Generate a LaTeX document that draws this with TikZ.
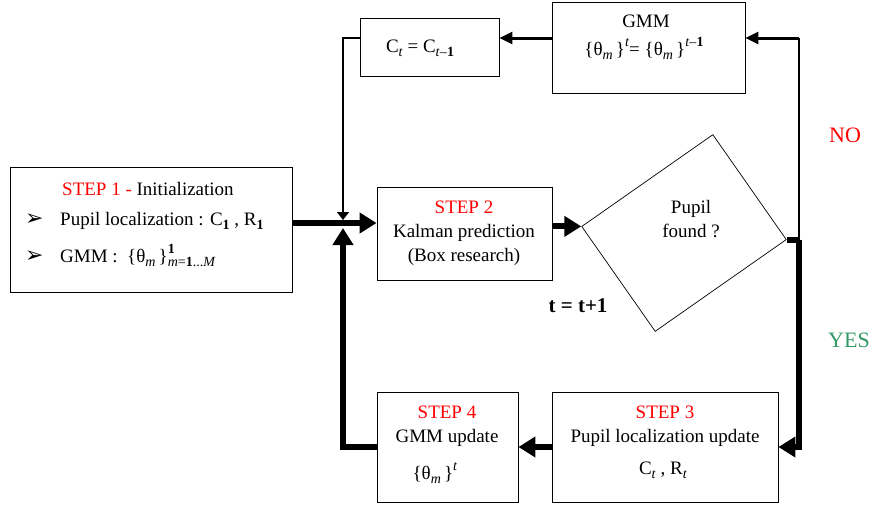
\documentclass[tikz,border=0pt]{standalone}
\usepackage{fontspec}
\setmainfont{Liberation Serif}
\newfontfamily\dejavu{DejaVu Sans}
\usetikzlibrary{arrows.meta,calc}
\definecolor{stepred}{RGB}{255,0,0}
\definecolor{yesgreen}{RGB}{51,153,102}
\newcommand\lo[1]{\raisebox{-4pt}{\fontsize{14}{14}\selectfont #1}}
\newcommand\hi[1]{\raisebox{9pt}{\fontsize{14}{14}\selectfont #1}}
\newcommand\supsub[2]{\makebox[0pt][l]{\hi{#1}}\lo{#2}}
\newcommand\bul{{\dejavu\fontsize{22}{22}\selectfont ➢}}
\begin{document}
\begin{tikzpicture}[x=1pt,y=1pt,
  box/.style={draw, rectangle, line width=0.9pt, inner sep=0pt},
  txt/.style={font=\fontsize{19}{23}\selectfont, inner sep=0pt, anchor=base},
  thickarrow/.style={line width=6pt, -{Triangle[length=17pt,width=20pt]}},
  thickline/.style={line width=6pt},
  medarrow/.style={line width=3pt, -{Triangle[length=13pt,width=12pt]}},
  thinline/.style={line width=1.5pt},
  thinarrow/.style={line width=1.5pt, -{Triangle[length=8pt,width=12pt]}}
]
\useasboundingbox (0,0) rectangle (874,-507);

% boxes
\node[box, minimum width=282pt, minimum height=125pt] (step1) at (151,-229.5) {};
\node[box, minimum width=139pt, minimum height=58pt] (cbox) at (429.5,-47) {};
\node[box, minimum width=193pt, minimum height=91pt] (gmm) at (648.5,-47.5) {};
\node[box, minimum width=175pt, minimum height=93pt] (step2) at (464.5,-233.5) {};
\node[box, minimum width=226pt, minimum height=110pt] (step3) at (665,-447) {};
\node[box, minimum width=141pt, minimum height=110pt] (step4) at (447.5,-447) {};
\node[draw, rectangle, line width=0.7pt, rotate=35, minimum width=160pt, minimum height=128pt, inner sep=0pt] (dec) at (684,-233) {};

% texts
\node[txt, anchor=base west] (s1a) at (62,-195) {\textcolor{stepred}{STEP 1 -} Initialization};
\node[txt, anchor=base west] (b1) at (25,-225) {\bul};
\node[txt, anchor=base west] (s1b) at (60,-225) {Pupil localization : C\lo{\textbf{1}} , R\lo{\textbf{1}}};
\node[txt, anchor=base west] (b2) at (25,-262) {\bul};
\node[txt, anchor=base west] (s1c) at (60,-262) {GMM :\ \ \{θ\lo{\textit{m}}\,\}\supsub{\textbf{1}}{\textit{m}=\textbf{1}...\textit{M}}};

\node[txt] (ct) at (420,-52) {C\lo{\textit{t}} = C\lo{\textit{t}–\textbf{1}}};
\node[txt] (g1) at (646,-27) {GMM};
\node[txt] (g2) at (644,-55) {\{θ\lo{\textit{m}}\,\}\hi{\textit{t}}= \{θ\lo{\textit{m}}\,\}\hi{\textit{t}–\textbf{1}}};

\node[txt, text=stepred] (s2a) at (464,-213) {STEP 2};
\node[txt] (s2b) at (464,-237) {Kalman prediction};
\node[txt] (s2c) at (464,-261) {(Box research)};

\node[txt] (q1) at (691,-213) {Pupil};
\node[txt] (q2) at (691,-237) {found ?};

\node[txt, text=stepred] (s3a) at (665,-418) {STEP 3};
\node[txt] (s3b) at (665,-442) {Pupil localization update};
\node[txt] (s3c) at (663,-474) {C\lo{\textit{t}} , R\lo{\textit{t}}};

\node[txt, text=stepred] (s4a) at (447,-418) {STEP 4};
\node[txt] (s4b) at (447,-442) {GMM update};
\node[txt] (s4c) at (435,-479) {\{θ\lo{\textit{m}}\,\}\hi{\textit{t}}};

\node[txt, font=\bfseries\fontsize{21}{24}\selectfont] (inc) at (578,-312) {t = t+1};
\node[txt, text=stepred, font=\fontsize{22}{26}\selectfont] (no) at (845,-142) {NO};
\node[txt, text=yesgreen, font=\fontsize{22}{26}\selectfont] (yes) at (849,-347) {YES};

% coordinates
\coordinate (J) at (343,-223);
\coordinate (lt) at (343,-38);
\coordinate (rt) at (799,-38);
\coordinate (rc) at (dec.south east -| rt);

% connectors
\draw[thickarrow] (step1.east |- J) -- (step2.west |- J);
\draw[thickarrow] (step2.east |- dec.north west) -- (dec.north west);
\draw[thickline] (dec.south east) -- (rc);
\draw[thickarrow] (rc) -- (rc |- step3.east) -- (step3.east);
\draw[thickarrow] (step3.west) -- (step4.east);
\draw[thickarrow, shorten >=5pt] (step4.west) -- (step4.west -| J) -- (J);
\draw[thinline] (rc) -- (rt);
\draw[medarrow] (rt) -- (gmm.east |- rt);
\draw[medarrow] (gmm.west |- rt) -- (cbox.east |- rt);
\draw[thinarrow, shorten >=3pt] (cbox.west |- rt) -- (lt) -- (J);
\end{tikzpicture}
\end{document}
